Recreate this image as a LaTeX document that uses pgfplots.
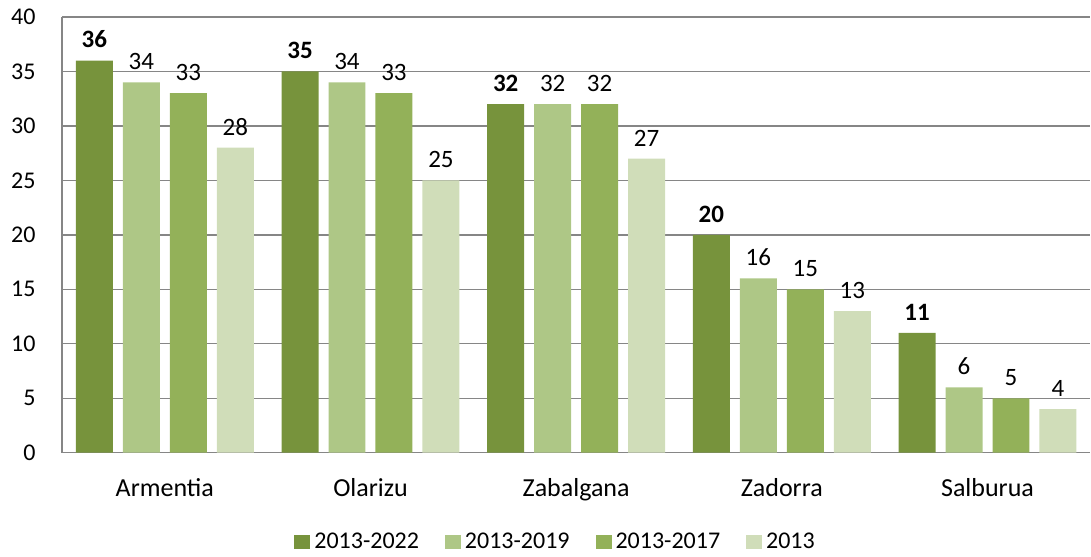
\documentclass[border=0pt]{standalone}
\usepackage{pgfplots}
\pgfplotsset{compat=1.18}
\usepackage{fontspec}
\setmainfont{Carlito}
\definecolor{cA}{RGB}{119,147,60}
\definecolor{cB}{RGB}{174,199,134}
\definecolor{cC}{RGB}{147,177,89}
\definecolor{cD}{RGB}{208,221,185}
\definecolor{gridc}{RGB}{134,134,134}
\begin{document}
\begin{tikzpicture}
\begin{axis}[
  at={(0,0)}, anchor=south west,
  scale only axis, width=1029pt, height=436pt,
  ybar=10pt, bar width=37pt,
  xmin=-0.5, xmax=4.5, ymin=0, ymax=40,
  ytick={0,5,...,40},
  xtick=data,
  xticklabels={Armentia,Olarizu,Zabalgana,Zadorra,Salburua},
  axis x line=bottom, axis y line=left,
  axis line style={-, draw=gridc, line width=1.3pt},
  ymajorgrids, grid style={draw=gridc, line width=1.3pt},
  major tick length=0pt,
  xticklabel style={font=\fontsize{26}{30}\selectfont, yshift=-22pt},
  yticklabel style={font=\fontsize{24}{29}\selectfont, anchor=east, xshift=-23pt},
  /pgf/number format/assume math mode=true,
  nodes near coords,
  every node near coord/.append style={font=\fontsize{25}{29}\selectfont, text=black, yshift=9pt},
  legend style={at={(0.48,-0.204)}, anchor=center, draw=none, legend columns=4,
    font=\fontsize{24}{28}\selectfont,
    /tikz/every even column/.append style={column sep=24pt},
    /tikz/every odd column/.append style={column sep=2pt}},
  legend image code/.code={\fill[#1] (0pt,-7pt) rectangle (16pt,7pt);},
]
\addplot[fill=cA, draw=none, every node near coord/.append style={font=\fontsize{25}{29}\selectfont\bfseries}] coordinates {(0,36) (1,35) (2,32) (3,20) (4,11)};
\addplot[fill=cB, draw=none] coordinates {(0,34) (1,34) (2,32) (3,16) (4,6)};
\addplot[fill=cC, draw=none] coordinates {(0,33) (1,33) (2,32) (3,15) (4,5)};
\addplot[fill=cD, draw=none] coordinates {(0,28) (1,25) (2,27) (3,13) (4,4)};
\legend{2013-2022,2013-2019,2013-2017,2013}
\end{axis}
\path (-62pt,-104pt) rectangle (1029pt,453pt);
\end{tikzpicture}
\end{document}
